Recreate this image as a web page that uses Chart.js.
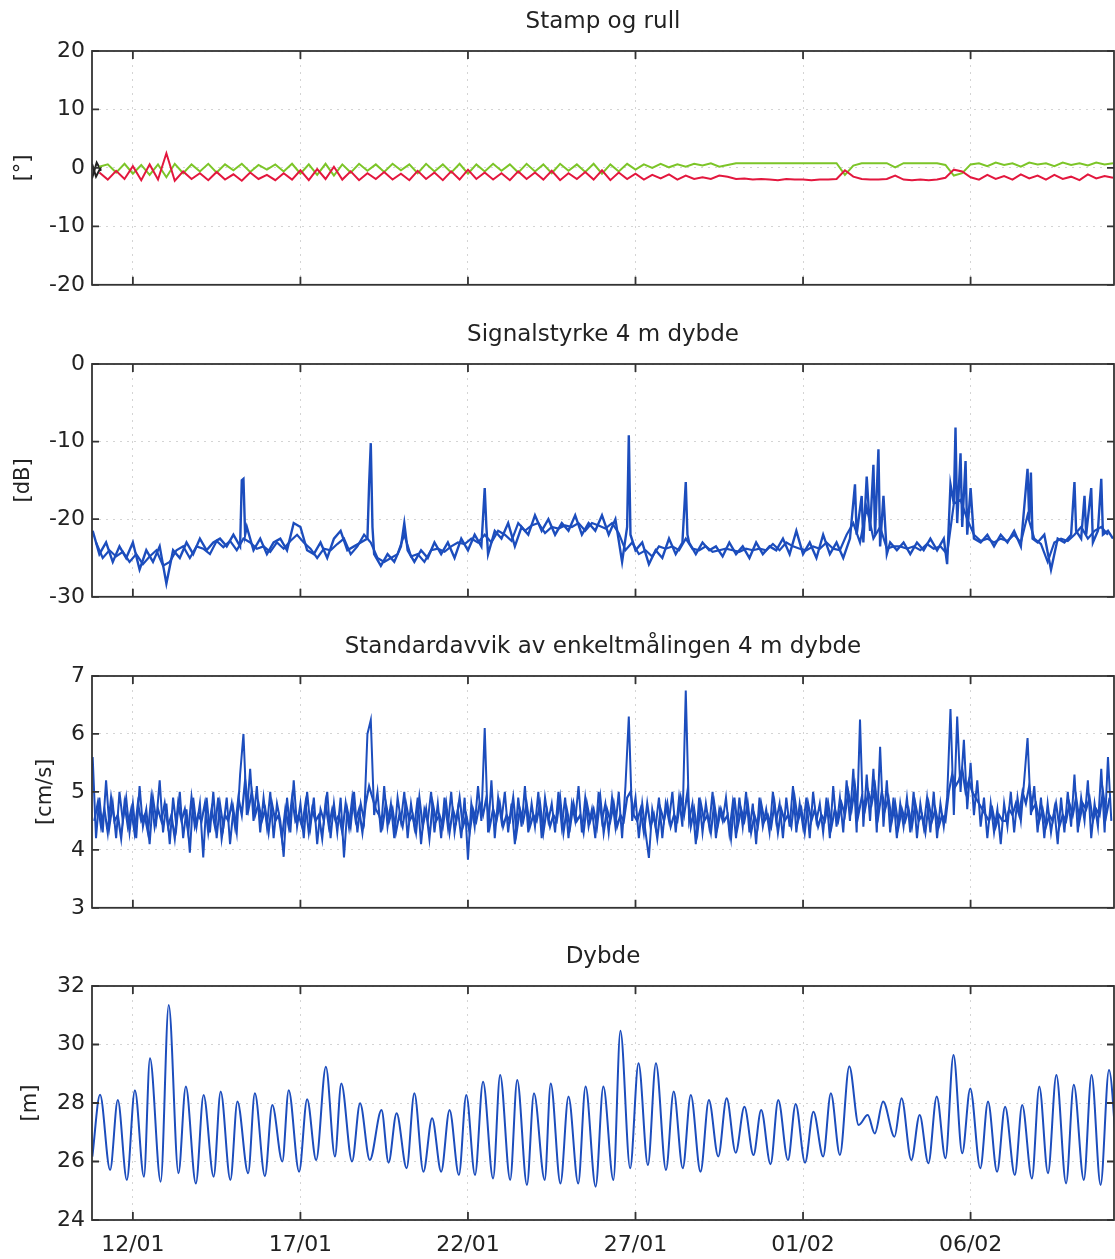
<!DOCTYPE html>
<html>
<head>
<meta charset="utf-8">
<script src="https://cdn.jsdelivr.net/npm/chart.js@4.4.0/dist/chart.umd.min.js"></script>
<style>
  html, body { margin: 0; padding: 0; background: #fff; }
  body { width: 1115px; height: 1259px; overflow: hidden; position: relative; }
  .panel { position: absolute; left: 0; width: 1115px; }
</style>
</head>
<body>
<div class="panel" style="top:1px;height:304px"><canvas id="c1"></canvas></div>
<div class="panel" style="top:314px;height:303px"><canvas id="c2"></canvas></div>
<div class="panel" style="top:626px;height:302px"><canvas id="c3"></canvas></div>
<div class="panel" style="top:936px;height:323px"><canvas id="c4"></canvas></div>
<script>
// ---------- x axis (day number; 32 = 01/02) ----------
const tickDays   = [12, 17, 22, 27, 32, 37];
const tickLabels = ['12/01', '17/01', '22/01', '27/01', '01/02', '06/02'];
const xMin = 10.78, xMax = 41.28;

// ---------- Panel 1: Stamp og rull (sampled every 0.25 day from 10.75) ----------
const attStart = 10.75, attStep = 0.25;
const rollVals = [null,
  -0.8,-2.0,-0.5,-1.9,0.3,-2.1,0.6,-2.0,2.5,-2.2,
  -0.6,-1.9,-0.9,-2.1,-0.7,-2.0,-1.1,-2.2,-0.8,-1.9,
  -1.2,-2.1,-0.9,-2.0,-0.4,-2.1,-0.2,-1.9,0.2,-2.0,
  -0.6,-2.1,-0.9,-1.9,-0.7,-2.0,-1.0,-2.1,-0.5,-1.9,
  -0.8,-2.1,-0.6,-2.0,-0.3,-1.9,-0.8,-2.0,-0.9,-2.1,
  -0.6,-1.9,-0.8,-2.0,-0.5,-2.1,-0.9,-1.9,-0.7,-2.0,
  -0.4,-2.1,-0.8,-1.9,-1.0,-2.0,-1.2,-1.8,-1.1,-2.0,
  -1.3,-1.9,-1.6,-1.9,-1.3,-1.5,-1.9,-1.8,-2.0,-1.9,
  -2.0,-2.1,-1.9,-2.0,-2.0,-2.1,-2.0,-2.0,-1.9,-0.4,
  -1.5,-1.9,-2.0,-2.0,-1.9,-1.3,-2.0,-2.1,-2.0,-2.1,
  -2.0,-1.7,-0.3,-0.6,-1.6,-2.0,-1.2,-1.9,-1.4,-2.0,
  -1.1,-1.8,-1.3,-2.0,-1.2,-1.9,-1.5,-2.1,-1.1,-1.8,
  -1.4,-1.7];
const pitchVals = [null,
  0.2,0.6,-0.8,0.7,-1.0,0.5,-1.2,0.6,-1.6,0.7,
  -0.9,0.6,-0.6,0.7,-0.8,0.6,-0.4,0.7,-0.7,0.5,
  -0.3,0.6,-0.6,0.7,-1.0,0.6,-1.2,0.7,-1.3,0.6,
  -0.8,0.7,-0.5,0.6,-0.7,0.7,-0.4,0.6,-0.9,0.7,
  -0.6,0.6,-0.8,0.7,-1.0,0.6,-0.6,0.7,-0.5,0.6,
  -0.8,0.7,-0.6,0.6,-0.9,0.7,-0.5,0.6,-0.7,0.7,
  -1.0,0.6,-0.6,0.7,-0.3,0.6,0.0,0.7,0.1,0.6,
  0.2,0.7,0.4,0.8,0.2,0.5,0.8,0.8,0.8,0.8,
  0.8,0.8,0.8,0.8,0.8,0.8,0.8,0.8,0.8,-1.2,
  0.4,0.8,0.8,0.8,0.8,0.1,0.8,0.8,0.8,0.8,
  0.8,0.5,-1.3,-0.9,0.6,0.8,0.3,0.9,0.5,0.8,
  0.2,0.9,0.6,0.8,0.3,0.9,0.5,0.8,0.4,0.9,
  0.6,0.8];
const startDaysA = [10.78, 10.92, 11.05];
const startValsA = [-1.8, 0.9, -0.5];
const startDaysB = [10.78, 10.9, 11.05];
const startValsB = [0.7, -1.5, 0.2];

// ---------- Panel 2: Signalstyrke 4 m dybde ----------
const sigDays = [
  10.8, 11.0, 11.2, 11.4, 11.6, 11.8, 12.0, 12.2, 12.4, 12.6,
  12.8, 13.0, 13.2, 13.4, 13.6, 13.8, 14.0, 14.2, 14.4, 14.6,
  14.8, 15.0, 15.2, 15.25, 15.3, 15.35, 15.4, 15.6, 15.8, 16.0,
  16.2, 16.4, 16.6, 16.8, 17.0, 17.2, 17.4, 17.6, 17.8, 18.0,
  18.2, 18.4, 18.6, 18.8, 19.0, 19.05, 19.1, 19.15, 19.2, 19.4,
  19.6, 19.8, 20.0, 20.1, 20.2, 20.4, 20.6, 20.8, 21.0, 21.2,
  21.4, 21.6, 21.8, 22.0, 22.2, 22.4, 22.5, 22.55, 22.6, 22.8,
  23.0, 23.2, 23.4, 23.6, 23.8, 24.0, 24.2, 24.4, 24.6, 24.8,
  25.0, 25.2, 25.4, 25.6, 25.8, 26.0, 26.2, 26.4, 26.6, 26.75,
  26.8, 26.85, 27.0, 27.2, 27.4, 27.6, 27.8, 28.0, 28.2, 28.4,
  28.5, 28.55, 28.6, 28.8, 29.0, 29.2, 29.4, 29.6, 29.8, 30.0,
  30.2, 30.4, 30.6, 30.8, 31.0, 31.2, 31.4, 31.6, 31.8, 32.0,
  32.2, 32.4, 32.6, 32.8, 33.0, 33.2, 33.4, 33.55, 33.6, 33.75,
  33.8, 33.9, 34.0, 34.1, 34.15, 34.25, 34.3, 34.4, 34.5, 34.6,
  34.8, 35.0, 35.2, 35.4, 35.6, 35.8, 36.0, 36.2, 36.3, 36.4,
  36.5, 36.55, 36.6, 36.7, 36.75, 36.85, 36.9, 37.0, 37.1, 37.3,
  37.5, 37.7, 37.9, 38.1, 38.3, 38.5, 38.7, 38.75, 38.8, 38.85,
  39.0, 39.2, 39.4, 39.6, 39.8, 40.0, 40.1, 40.15, 40.3, 40.4,
  40.45, 40.6, 40.65, 40.8, 40.9, 40.95, 41.1, 41.25];
const sigVals = [
  -21.5, -24.5, -23.0, -25.5, -23.5, -25.0, -23.0, -26.5, -24.0, -25.5,
  -23.5, -28.3, -24.0, -25.0, -23.0, -24.5, -22.5, -24.0, -23.0, -22.5,
  -23.5, -22.0, -23.5, -15.0, -14.8, -22.0, -21.0, -24.0, -22.5, -24.5,
  -23.0, -22.5, -24.0, -20.5, -21.0, -24.0, -24.5, -23.0, -25.0, -22.5,
  -21.5, -24.0, -23.5, -23.0, -22.5, -15.5, -10.2, -21.0, -24.5, -26.0,
  -24.5, -25.5, -23.5, -20.5, -24.0, -25.5, -24.0, -25.0, -23.0, -24.5,
  -23.0, -25.0, -22.5, -24.0, -22.0, -23.5, -16.0, -21.0, -24.5, -21.5,
  -22.5, -20.5, -23.5, -21.0, -22.0, -19.5, -21.5, -20.0, -22.0, -20.5,
  -21.5, -19.5, -22.0, -20.5, -21.5, -19.5, -22.0, -20.0, -25.5, -21.0,
  -9.2, -22.0, -24.0, -23.0, -25.8, -24.0, -25.0, -22.5, -24.5, -23.0,
  -15.2, -22.0, -23.0, -24.5, -23.0, -24.0, -23.5, -24.8, -23.0, -24.5,
  -23.5, -25.0, -23.0, -24.5, -23.5, -24.0, -22.5, -24.5, -21.5, -24.5,
  -23.0, -25.0, -22.0, -24.5, -23.0, -25.0, -22.5, -15.5, -22.0, -17.0,
  -23.0, -14.5, -21.5, -13.0, -22.0, -11.0, -23.5, -17.0, -24.5, -23.0,
  -24.0, -23.0, -24.5, -23.0, -24.0, -22.5, -24.0, -22.5, -25.8, -15.5,
  -18.0, -8.2, -20.5, -11.5, -21.0, -12.5, -22.0, -16.0, -22.5, -23.0,
  -22.0, -23.5, -22.0, -23.0, -21.5, -23.5, -13.5, -20.0, -14.0, -22.5,
  -23.0, -22.0, -26.5, -22.5, -23.0, -22.0, -15.2, -21.5, -22.5, -17.0,
  -22.0, -16.0, -23.0, -21.5, -14.8, -22.0, -21.5, -22.5];
// second (overlapping) trace, sampled every 0.2 day from 10.9
const sig2Start = 10.9, sig2Step = 0.2;
const sig2Vals = [
  -23.0,-25.0,-24.0,-24.8,-24.2,-25.5,-24.5,-25.8,-24.8,-24.0,
  -26.0,-25.5,-24.0,-23.5,-25.0,-23.5,-23.8,-24.5,-22.8,-23.6,
  -22.8,-24.0,-22.5,-23.0,-23.8,-23.5,-24.2,-23.0,-23.8,-22.8,
  -22.0,-23.0,-23.8,-25.0,-23.8,-24.0,-23.2,-22.5,-24.5,-23.5,
  -22.0,-23.0,-25.0,-25.5,-25.0,-24.5,-22.0,-24.8,-24.5,-25.5,
  -24.0,-23.8,-24.2,-23.5,-23.0,-23.2,-22.5,-23.0,-22.0,-23.0,
  -21.5,-22.0,-22.8,-20.5,-21.5,-20.8,-20.5,-21.8,-21.0,-21.2,
  -20.8,-21.0,-20.5,-21.5,-20.5,-20.8,-21.2,-20.5,-21.8,-24.0,
  -23.0,-24.5,-24.0,-24.8,-23.5,-23.8,-23.5,-24.0,-22.5,-23.8,
  -24.0,-23.5,-24.2,-24.0,-23.8,-24.0,-24.2,-23.8,-24.0,-23.8,
  -24.0,-23.2,-24.0,-23.0,-23.5,-23.8,-24.0,-23.5,-23.8,-23.0,
  -23.8,-24.0,-22.0,-20.5,-23.0,-18.5,-22.5,-21.0,-23.8,-23.5,
  -23.5,-23.8,-23.5,-24.0,-23.2,-23.8,-23.5,-24.5,-18.0,-17.5,
  -20.0,-22.0,-22.8,-22.5,-23.0,-22.5,-22.8,-22.0,-23.0,-19.5,
  -22.5,-23.2,-25.5,-23.0,-22.5,-22.8,-22.0,-21.0,-22.5,-21.5,
  -21.0,-22.0];

// ---------- Panel 3: Standardavvik (sampled every 0.1 day from 10.8) ----------
const sdStart = 10.8, sdStep = 0.1;
const sdVals = [
  5.6, 4.2,
  4.9, 4.3, 5.2, 4.4, 4.8, 4.2, 5.0, 4.5, 4.9, 4.3,
  4.8, 4.2, 5.1, 4.4, 4.7, 4.1, 4.9, 4.5, 5.2, 4.3,
  4.8, 4.1, 4.9, 4.4, 5.0, 4.2, 4.7, 3.95, 4.9, 4.4,
  4.8, 3.87, 4.9, 4.3, 5.0, 4.2, 4.8, 4.4, 4.9, 4.1,
  4.7, 4.3, 5.3, 6.0, 4.6, 5.4, 4.5, 5.1, 4.3, 4.9,
  4.4, 5.0, 4.2, 4.8, 4.5, 3.88, 4.9, 4.3, 5.2, 4.4,
  4.8, 4.2, 5.0, 4.4, 4.9, 4.1, 4.7, 4.5, 5.0, 4.2,
  4.8, 4.3, 4.9, 3.87, 4.7, 4.4, 5.0, 4.3, 4.8, 4.5,
  6.0, 6.24, 4.6, 5.0, 4.3, 5.1, 4.4, 4.8, 4.2, 4.9,
  4.5, 5.0, 4.2, 4.8, 4.4, 4.9, 4.1, 4.7, 4.5, 5.0,
  4.3, 4.8, 4.2, 4.9, 4.4, 5.0, 4.3, 4.7, 4.2, 4.9,
  3.83, 4.8, 4.4, 5.1, 4.5, 6.1, 4.3, 5.2, 4.2, 4.9,
  4.5, 5.0, 4.3, 4.8, 4.1, 4.9, 4.4, 5.1, 4.3, 4.8,
  4.4, 5.0, 4.2, 4.9, 4.5, 4.8, 4.3, 5.0, 4.4, 4.9,
  4.2, 4.8, 4.5, 5.1, 4.3, 4.9, 4.4, 4.7, 4.2, 5.0,
  4.5, 4.8, 4.3, 4.9, 4.4, 5.0, 4.2, 5.1, 6.3, 4.5,
  4.9, 4.2, 4.8, 4.3, 3.86, 4.7, 4.4, 4.9, 4.2, 4.8,
  4.5, 5.0, 4.3, 4.9, 4.4, 6.75, 4.5, 4.8, 4.1, 4.9,
  4.3, 4.8, 4.4, 5.0, 4.2, 4.7, 4.5, 4.9, 4.3, 4.8,
  4.2, 4.9, 4.4, 5.0, 4.3, 4.8, 4.1, 4.9, 4.4, 4.7,
  4.3, 5.0, 4.5, 4.8, 4.2, 4.9, 4.4, 5.1, 4.3, 4.8,
  4.4, 4.9, 4.2, 5.0, 4.5, 4.8, 4.3, 4.9, 4.2, 5.1,
  4.4, 4.9, 4.3, 5.2, 4.5, 5.4, 4.3, 6.25, 4.4, 5.3,
  4.5, 5.4, 4.3, 5.78, 4.4, 5.2, 4.3, 4.9, 4.2, 4.8,
  4.4, 4.9, 4.3, 5.0, 4.2, 4.8, 4.4, 4.9, 4.3, 5.0,
  4.2, 4.8, 4.4, 4.9, 6.43, 4.6, 6.3, 5.0, 5.9, 4.7,
  5.5, 4.6, 5.2, 4.4, 4.9, 4.2, 4.8, 4.3, 4.7, 4.1,
  4.8, 4.4, 5.0, 4.3, 4.9, 4.5, 5.2, 5.93, 4.6, 5.1,
  4.3, 4.9, 4.2, 4.8, 4.3, 4.7, 4.1, 4.9, 4.3, 5.0,
  4.4, 5.3, 4.3, 4.9, 4.5, 5.2, 4.2, 4.8, 4.4, 5.4,
  4.3, 5.6, 4.5];
// second (overlapping) trace, sampled every 0.1 day from 10.85
const sd2Start = 10.85, sd2Step = 0.1;
const sd2Vals = [
  4.5, 4.8,
  4.4, 4.7, 4.3, 4.9, 4.5, 4.6, 4.2, 4.8, 4.4, 4.7,
  4.3, 4.8, 4.5, 4.6, 4.3, 4.9, 4.4, 4.7, 4.5, 4.8,
  4.4, 4.6, 4.2, 4.8, 4.5, 4.7, 4.3, 4.9, 4.4, 4.6,
  4.5, 4.8, 4.3, 4.7, 4.4, 4.9, 4.2, 4.6, 4.5, 4.8,
  4.4, 4.9, 4.6, 5.2, 4.7, 5.0, 4.6, 4.8, 4.5, 4.7,
  4.3, 4.8, 4.5, 4.6, 4.2, 4.7, 4.4, 4.9, 4.5, 4.6,
  4.4, 4.8, 4.3, 4.7, 4.5, 4.6, 4.2, 4.8, 4.4, 4.7,
  4.5, 4.6, 4.3, 4.8, 4.4, 4.9, 4.5, 4.7, 4.3, 4.8,
  5.1, 4.9, 4.7, 4.6, 4.4, 4.8, 4.5, 4.7, 4.3, 4.6,
  4.4, 4.8, 4.5, 4.6, 4.3, 4.9, 4.4, 4.7, 4.2, 4.8,
  4.5, 4.6, 4.4, 4.8, 4.3, 4.7, 4.5, 4.9, 4.4, 4.6,
  4.3, 4.7, 4.5, 4.8, 4.6, 4.9, 4.4, 4.7, 4.5, 4.8,
  4.4, 4.6, 4.5, 4.9, 4.3, 4.7, 4.5, 4.8, 4.4, 4.6,
  4.5, 4.8, 4.3, 4.7, 4.4, 4.6, 4.5, 4.9, 4.3, 4.7,
  4.4, 4.8, 4.5, 4.6, 4.3, 4.8, 4.5, 4.7, 4.4, 4.9,
  4.3, 4.7, 4.5, 4.8, 4.4, 4.6, 4.5, 4.9, 5.0, 4.6,
  4.5, 4.7, 4.3, 4.8, 4.4, 4.6, 4.2, 4.7, 4.5, 4.8,
  4.4, 4.6, 4.5, 4.9, 4.6, 5.0, 4.4, 4.7, 4.3, 4.8,
  4.5, 4.6, 4.3, 4.8, 4.4, 4.7, 4.5, 4.6, 4.2, 4.9,
  4.4, 4.7, 4.5, 4.8, 4.3, 4.6, 4.4, 4.8, 4.5, 4.6,
  4.4, 4.8, 4.3, 4.7, 4.5, 4.6, 4.4, 4.9, 4.5, 4.7,
  4.3, 4.8, 4.5, 4.7, 4.4, 4.6, 4.5, 4.8, 4.4, 4.7,
  4.5, 4.8, 4.6, 5.0, 4.7, 5.1, 4.6, 4.9, 4.7, 5.0,
  4.8, 5.1, 4.6, 5.0, 4.7, 4.9, 4.5, 4.8, 4.4, 4.7,
  4.5, 4.7, 4.4, 4.8, 4.5, 4.6, 4.3, 4.8, 4.5, 4.7,
  4.4, 4.6, 4.5, 5.0, 5.3, 5.1, 5.2, 5.4, 5.0, 5.2,
  5.0, 4.9, 4.8, 4.7, 4.6, 4.5, 4.7, 4.4, 4.6, 4.5,
  4.5, 4.7, 4.6, 4.8, 4.6, 5.0, 4.8, 5.1, 4.7, 4.8,
  4.5, 4.7, 4.4, 4.6, 4.5, 4.8, 4.4, 4.6, 4.5, 4.8,
  4.6, 4.9, 4.5, 4.8, 4.7, 4.9, 4.5, 4.7, 4.6, 5.0,
  4.6, 4.9];

// ---------- Panel 4: Dybde (peaks and troughs) ----------
const depthDays = [
  10.79,11.02,11.32,11.55,11.82,12.06,12.33,12.51,12.83,13.07,13.36,13.58,13.88,14.11,14.41,14.62,14.91,15.12,
  15.44,15.64,15.94,16.16,16.46,16.65,16.96,17.20,17.47,17.76,18.03,18.22,18.54,18.78,19.07,19.42,19.63,19.87,
  20.17,20.40,20.67,20.93,21.20,21.45,21.73,21.95,22.21,22.45,22.75,22.96,23.26,23.47,23.76,23.97,24.29,24.47,
  24.76,25.00,25.29,25.51,25.81,26.04,26.34,26.55,26.84,27.09,27.37,27.61,27.91,28.14,28.41,28.65,28.94,29.19,
  29.47,29.72,29.99,30.25,30.52,30.75,31.03,31.26,31.55,31.78,32.06,32.31,32.60,32.83,33.10,33.38,33.66,33.93,
  34.14,34.39,34.73,34.94,35.23,35.48,35.74,35.99,36.25,36.49,36.75,36.99,37.29,37.52,37.79,38.03,38.32,38.54,
  38.83,39.05,39.31,39.56,39.85,40.08,40.38,40.61,40.88,41.13,41.41];
const depthVals = [
  26.17,28.28,25.71,28.10,25.37,28.44,25.48,29.53,25.31,31.35,25.60,28.56,25.25,28.27,25.48,28.39,25.37,28.05,
  25.60,28.33,25.50,27.93,26.00,28.44,25.65,28.13,26.05,29.24,26.17,28.67,26.00,27.99,26.05,27.76,25.96,27.65,
  25.77,28.33,25.65,27.48,25.65,27.76,25.54,28.27,25.54,28.73,25.42,28.96,25.37,28.79,25.20,28.33,25.37,28.67,
  25.25,28.22,25.25,28.56,25.14,28.56,25.37,30.47,25.77,29.36,25.88,29.36,25.71,28.39,25.77,28.27,25.65,28.10,
  26.17,28.16,26.30,27.87,26.22,27.76,25.91,28.10,26.05,27.97,25.96,27.70,26.17,28.33,26.22,29.26,27.25,27.59,
  26.96,28.05,26.85,28.16,26.05,27.59,25.94,28.22,26.11,29.64,26.28,28.50,25.77,28.05,25.65,27.87,25.54,27.93,
  25.42,28.56,25.60,28.96,25.25,28.62,25.37,28.96,25.20,29.13,25.31];

// ---------- helpers ----------
const FONT = "'DejaVu Sans', 'Liberation Sans', sans-serif";
const TXT = '#222';
const BLUE = '#1c4dbd';

function pts(xs, ys) { return xs.map((x, i) => ({ x: x, y: ys[i] })); }
function sampled(start, step, ys) { return ys.map((y, i) => ({ x: start + step * i, y: y })); }

// MATLAB-style box with inward ticks, and a title centred over the axes
const boxPlugin = {
  id: 'matlabBox',
  afterDatasetsDraw(chart, args, o) {
    const { ctx, chartArea: a, scales } = chart;
    ctx.save();
    ctx.strokeStyle = '#333';
    ctx.lineWidth = 1.8;
    ctx.strokeRect(a.left, a.top, a.right - a.left, a.bottom - a.top);
    ctx.beginPath();
    scales.x.ticks.forEach(t => {
      const px = scales.x.getPixelForValue(t.value);
      ctx.moveTo(px, a.bottom); ctx.lineTo(px, a.bottom - 8);
      ctx.moveTo(px, a.top); ctx.lineTo(px, a.top + 8);
    });
    scales.y.ticks.forEach(t => {
      const py = scales.y.getPixelForValue(t.value);
      ctx.moveTo(a.left, py); ctx.lineTo(a.left + 7, py);
      ctx.moveTo(a.right, py); ctx.lineTo(a.right - 7, py);
    });
    ctx.stroke();
    ctx.fillStyle = TXT;
    ctx.font = '23px ' + FONT;
    ctx.textAlign = 'center';
    ctx.textBaseline = 'middle';
    ctx.fillText(o.text, (a.left + a.right) / 2, a.top - 29);
    ctx.restore();
  }
};

function makePanel(id, opt) {
  const yTicks = opt.yTicks;
  new Chart(document.getElementById(id), {
    type: 'line',
    data: { datasets: opt.datasets },
    options: {
      responsive: true,
      maintainAspectRatio: false,
      animation: false,
      layout: { padding: { left: 0, right: 1, top: 50, bottom: 0 } },
      elements: { point: { radius: 0 } },
      plugins: {
        legend: { display: false },
        tooltip: { enabled: false },
        title: { display: false },
        matlabBox: { text: opt.title }
      },
      scales: {
        x: {
          type: 'linear', min: xMin, max: xMax,
          afterBuildTicks: s => { s.ticks = tickDays.map(v => ({ value: v })); },
          afterFit: s => { s.height = opt.bottomH; },
          ticks: {
            display: opt.showX, color: TXT, padding: 12,
            font: { family: FONT, size: 22 },
            autoSkip: false, maxRotation: 0,
            callback: v => { const k = tickDays.indexOf(v); return k >= 0 ? tickLabels[k] : ''; }
          },
          grid: { drawTicks: false, color: '#d4d4d4', lineWidth: 1 },
          border: { display: false, dash: [2, 5] }
        },
        y: {
          type: 'linear', min: yTicks[0], max: yTicks[yTicks.length - 1],
          afterBuildTicks: s => { s.ticks = yTicks.map(v => ({ value: v })); },
          afterFit: s => { s.width = 92; },
          ticks: { color: TXT, padding: 7, font: { family: FONT, size: 22 } },
          grid: { drawTicks: false, color: '#d4d4d4', lineWidth: 1 },
          border: { display: false, dash: [2, 5] },
          title: {
            display: true, text: opt.yLabel, color: TXT,
            font: { family: FONT, size: 21 },
            padding: { top: opt.yLabelPad, bottom: 0 }
          }
        }
      }
    },
    plugins: [boxPlugin]
  });
}

const lineDs = (data, color, w, extra) => Object.assign({
  data: data, borderColor: color, borderWidth: w, pointRadius: 0, fill: false, tension: 0, spanGaps: false
}, extra || {});

makePanel('c1', {
  title: 'Stamp og rull', yLabel: '[°]', yLabelPad: 11,
  yTicks: [-20, -10, 0, 10, 20], showX: false, bottomH: 20,
  datasets: [
    lineDs(sampled(attStart, attStep, rollVals), '#e3173e', 2),
    lineDs(sampled(attStart, attStep, pitchVals), '#7cc528', 2),
    lineDs(pts(startDaysA, startValsA), '#222222', 2),
    lineDs(pts(startDaysB, startValsB), '#222222', 2)
  ]
});

makePanel('c2', {
  title: 'Signalstyrke 4 m dybde', yLabel: '[dB]', yLabelPad: 11,
  yTicks: [-30, -20, -10, 0], showX: false, bottomH: 20,
  datasets: [
    lineDs(sampled(sig2Start, sig2Step, sig2Vals), BLUE, 2.2),
    lineDs(pts(sigDays, sigVals), BLUE, 2.4)
  ]
});

makePanel('c3', {
  title: 'Standardavvik av enkeltmålingen 4 m dybde', yLabel: '[cm/s]', yLabelPad: 33,
  yTicks: [3, 4, 5, 6, 7], showX: false, bottomH: 20,
  datasets: [
    lineDs(sampled(sd2Start, sd2Step, sd2Vals), BLUE, 2.2),
    lineDs(sampled(sdStart, sdStep, sdVals), BLUE, 2.0)
  ]
});

makePanel('c4', {
  title: 'Dybde', yLabel: '[m]', yLabelPad: 18,
  yTicks: [24, 26, 28, 30, 32], showX: true, bottomH: 39,
  datasets: [ lineDs(pts(depthDays, depthVals), BLUE, 2, { cubicInterpolationMode: 'monotone' }) ]
});
</script>
</body>
</html>
